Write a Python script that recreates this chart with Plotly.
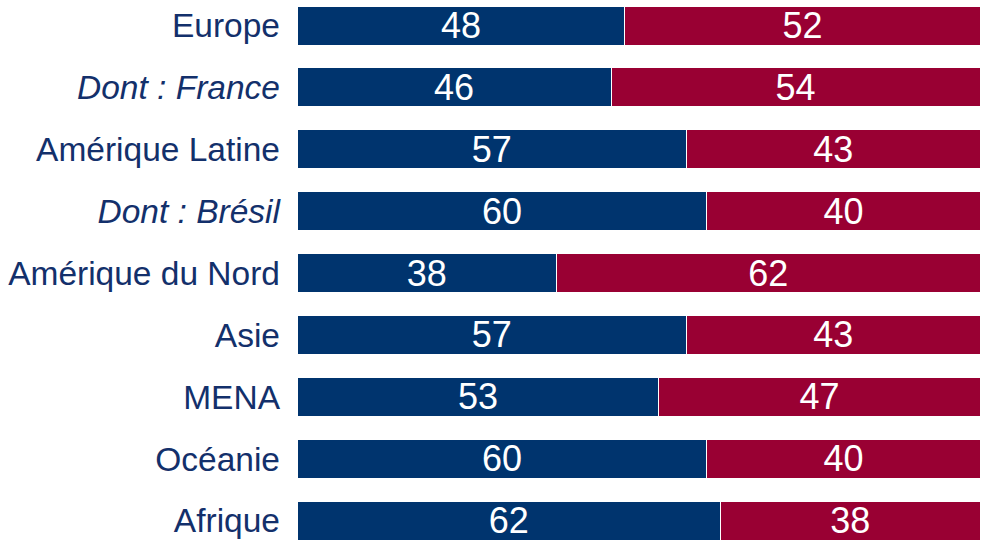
import plotly.graph_objects as go

# Shares per region (two complementary groups, in %)
regions = ["Europe", "Dont : France", "Amérique Latine", "Dont : Brésil",
           "Amérique du Nord", "Asie", "MENA", "Océanie", "Afrique"]
italic_rows = {"Dont : France", "Dont : Brésil"}
share_a = [48, 46, 57, 60, 38, 57, 53, 60, 62]
share_b = [52, 54, 43, 40, 62, 43, 47, 40, 38]

BLUE = "#00346e"
RED = "#990033"
LABEL = "#13306b"

rows = list(range(len(regions)))
tick_text = [f"<i>{r}</i>" if r in italic_rows else r for r in regions]

fig = go.Figure()
for vals, col in ((share_a, BLUE), (share_b, RED)):
    fig.add_trace(go.Bar(
        x=vals, y=rows, orientation="h",
        marker=dict(color=col, line=dict(color="white", width=1)),
        text=[str(v) for v in vals],
        textposition="inside", insidetextanchor="middle",
        textangle=0, constraintext="none",
        textfont=dict(color="white", size=36, family="Liberation Sans, Arial, sans-serif"),
        hoverinfo="skip",
    ))

fig.update_layout(
    barmode="stack", bargap=0.37,
    width=982, height=540,
    margin=dict(l=297, r=2, t=0, b=0),
    plot_bgcolor="white", paper_bgcolor="white",
    showlegend=False,
    font=dict(family="Liberation Sans, Arial, sans-serif"),
)
fig.update_xaxes(range=[0, 100], visible=False, fixedrange=True)
fig.update_yaxes(
    range=[8.312, -0.412], tickmode="array", tickvals=rows, ticktext=tick_text,
    showgrid=False, zeroline=False, showline=False, ticks="",
    ticklabelstandoff=16,
    tickfont=dict(size=33.5, color=LABEL, family="Liberation Sans, Arial, sans-serif"),
    fixedrange=True,
)

fig.write_html("out.html")
